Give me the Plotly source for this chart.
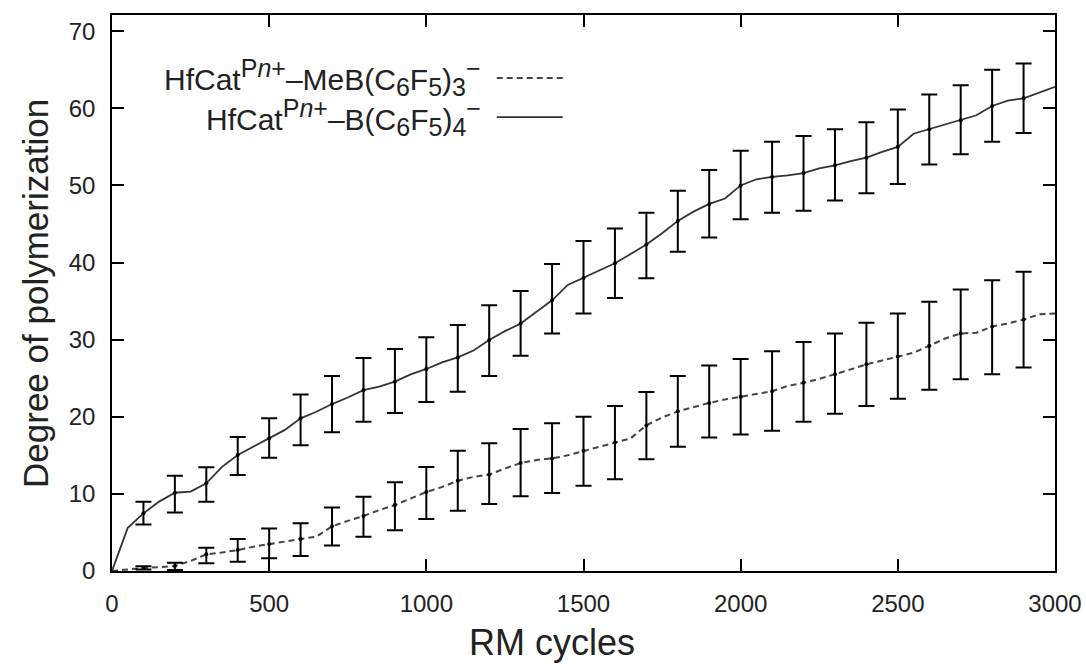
import plotly.graph_objects as go

# ---- data ----
cycles_line = [0, 50, 100, 150, 200, 250, 300, 350, 400, 450, 500, 550, 600, 650, 700, 750,
               800, 850, 900, 950, 1000, 1050, 1100, 1150, 1200, 1250, 1300, 1350, 1400, 1450,
               1500, 1550, 1600, 1650, 1700, 1750, 1800, 1850, 1900, 1950, 2000, 2050, 2100,
               2150, 2200, 2250, 2300, 2350, 2400, 2450, 2500, 2550, 2600, 2650, 2700, 2750,
               2800, 2850, 2900, 2950, 3000]

dp_B4 = [0, 5.6, 7.48, 9.0, 10.15, 10.3, 11.37, 13.5, 15.04, 16.1, 17.2, 18.3, 19.8, 20.65,
         21.65, 22.5, 23.46, 23.9, 24.55, 25.5, 26.2, 27.05, 27.7, 28.6, 29.95, 31.1, 32.1,
         33.6, 35.1, 37.1, 38.0, 38.9, 39.9, 41.1, 42.35, 43.8, 45.4, 46.6, 47.6, 48.3, 50.0,
         50.8, 51.1, 51.3, 51.6, 52.2, 52.6, 53.15, 53.6, 54.35, 55.0, 56.7, 57.3, 57.8, 58.45,
         59.1, 60.3, 61.0, 61.3, 62.0, 62.8]

dp_MeB = [0, 0.2, 0.4, 0.5, 0.65, 1.3, 2.16, 2.4, 2.72, 3.15, 3.5, 3.8, 4.15, 4.45, 5.8, 6.5,
          7.13, 7.9, 8.55, 9.4, 10.24, 10.9, 11.7, 12.2, 12.5, 13.3, 14.0, 14.4, 14.6, 15.0,
          15.6, 16.1, 16.65, 17.2, 18.9, 19.9, 20.7, 21.3, 21.8, 22.25, 22.6, 23.0, 23.3, 24.0,
          24.4, 24.9, 25.5, 26.15, 26.8, 27.3, 27.8, 28.3, 29.2, 30.15, 30.8, 30.9, 31.7, 32.1,
          32.6, 33.3, 33.4]

cycles_err = [100, 200, 300, 400, 500, 600, 700, 800, 900, 1000, 1100, 1200, 1300, 1400, 1500,
              1600, 1700, 1800, 1900, 2000, 2100, 2200, 2300, 2400, 2500, 2600, 2700, 2800, 2900]

B4_mean = [7.48, 10.15, 11.37, 15.04, 17.2, 19.8, 21.65, 23.46, 24.55, 26.2, 27.7, 29.95, 32.1,
           35.1, 38.0, 39.9, 42.35, 45.4, 47.6, 50.0, 51.1, 51.6, 52.6, 53.6, 55.0, 57.3, 58.45,
           60.3, 61.3]
B4_err_up = [1.5, 2.2, 2.1, 2.35, 2.6, 3.1, 3.65, 4.15, 4.25, 4.1, 4.2, 4.5, 4.2, 4.7, 4.8, 4.5,
             4.1, 3.9, 4.4, 4.5, 4.55, 4.8, 4.7, 4.6, 4.85, 4.5, 4.55, 4.7, 4.5]
B4_err_dn = [1.45, 2.55, 2.4, 2.6, 2.5, 3.5, 3.65, 4.1, 4.05, 4.3, 4.45, 4.65, 4.2, 4.3, 4.6, 4.5,
             4.4, 4.0, 4.35, 4.4, 4.65, 4.9, 4.55, 4.6, 4.8, 4.6, 4.4, 4.65, 4.5]

MeB_mean = [0.4, 0.65, 2.16, 2.72, 3.5, 4.15, 5.8, 7.13, 8.55, 10.24, 11.7, 12.5, 14.0, 14.6,
            15.6, 16.65, 18.9, 20.7, 21.8, 22.6, 23.3, 24.4, 25.5, 26.8, 27.8, 29.2, 30.8, 31.7,
            32.6]
MeB_err_up = [0.2, 0.43, 0.86, 1.43, 2.0, 2.05, 2.45, 2.5, 2.95, 3.26, 3.9, 4.05, 4.4, 4.55,
              4.4, 4.75, 4.3, 4.6, 4.85, 4.9, 5.2, 5.3, 5.3, 5.4, 5.6, 5.7, 5.7, 6.0, 6.2]
MeB_err_dn = [0.2, 0.52, 1.16, 1.52, 1.85, 2.2, 2.5, 2.68, 3.25, 3.5, 3.9, 3.8, 4.3, 4.5, 4.55,
              4.75, 4.4, 4.6, 4.5, 4.9, 5.1, 5.05, 5.1, 5.4, 5.45, 5.7, 5.95, 6.2, 6.2]


def small(t):
    return '<span style="font-size:25px">' + t + '</span>'


label_MeB = ("HfCat<sup>" + small("P<i>n</i>+") + "</sup>–MeB(C<sub>" + small("6") + "</sub>F<sub>"
             + small("5") + "</sub>)<sub>" + small("3") + "</sub><sup>" + small("−") + "</sup>")
label_B4 = ("HfCat<sup>" + small("P<i>n</i>+") + "</sup>–B(C<sub>" + small("6") + "</sub>F<sub>"
            + small("5") + "</sub>)<sub>" + small("4") + "</sub><sup>" + small("−") + "</sup>")

x_ticks = [0, 500, 1000, 1500, 2000, 2500, 3000]
y_ticks = [0, 10, 20, 30, 40, 50, 60, 70]

FONT = "Liberation Sans, Arial, sans-serif"
TXT = "#222222"

fig = go.Figure()

# lines
fig.add_trace(go.Scatter(x=cycles_line, y=dp_MeB, mode="lines",
                         line=dict(color="#444444", width=2, dash="6px,4px"),
                         showlegend=False))
fig.add_trace(go.Scatter(x=cycles_line, y=dp_B4, mode="lines",
                         line=dict(color="#333333", width=1.8),
                         showlegend=False))

# error bars with small points
for mean, up, dn in [(MeB_mean, MeB_err_up, MeB_err_dn), (B4_mean, B4_err_up, B4_err_dn)]:
    fig.add_trace(go.Scatter(
        x=cycles_err, y=mean, mode="markers",
        marker=dict(color="black", size=4),
        error_y=dict(type="data", symmetric=False, array=up, arrayminus=dn,
                     color="black", thickness=2, width=8),
        showlegend=False))

axis_common = dict(
    showline=True, linecolor="black", linewidth=1.5, mirror="ticks",
    ticks="inside", ticklen=12, tickwidth=1.5, tickcolor="black",
    showgrid=False, zeroline=False, automargin=False,
    tickfont=dict(family=FONT, size=24, color=TXT),
)

fig.update_xaxes(range=[0, 3000], tickvals=x_ticks, ticktext=[str(v) for v in x_ticks],
                 ticklabelstandoff=10, **axis_common)
fig.update_yaxes(range=[0, 72.1], tickvals=y_ticks, ticktext=[str(v) for v in y_ticks],
                 ticklabelstandoff=10, **axis_common)

annotations = [
    dict(text="RM cycles", xref="paper", yref="paper", x=0.4666, y=-0.128,
         xanchor="center", yanchor="middle", showarrow=False,
         font=dict(family=FONT, size=36, color=TXT)),
    dict(text="Degree of polymerization", xref="paper", yref="paper", x=-0.0817, y=0.5,
         xanchor="center", yanchor="middle", textangle=-90, showarrow=False,
         font=dict(family=FONT, size=35, color=TXT)),
    dict(text=label_MeB, xref="paper", yref="paper", x=0.3934, y=0.8867,
         xanchor="right", yanchor="middle", showarrow=False,
         font=dict(family=FONT, size=30, color=TXT)),
    dict(text=label_B4, xref="paper", yref="paper", x=0.3934, y=0.8165,
         xanchor="right", yanchor="middle", showarrow=False,
         font=dict(family=FONT, size=30, color=TXT)),
]

shapes = [
    dict(type="line", xref="paper", yref="paper", x0=0.408, x1=0.478, y0=0.8867, y1=0.8867,
         line=dict(color="#444444", width=2, dash="6px,4px")),
    dict(type="line", xref="paper", yref="paper", x0=0.408, x1=0.478, y0=0.8165, y1=0.8165,
         line=dict(color="#333333", width=1.8)),
]

fig.update_layout(
    width=1086, height=664,
    margin=dict(l=112, r=31, t=15, b=93, autoexpand=False),
    paper_bgcolor="white", plot_bgcolor="white",
    annotations=annotations, shapes=shapes,
    showlegend=False,
)

fig.write_html("out.html", config={"displayModeBar": False},
               post_script="document.body.style.margin='0';document.body.style.overflow='hidden';")
